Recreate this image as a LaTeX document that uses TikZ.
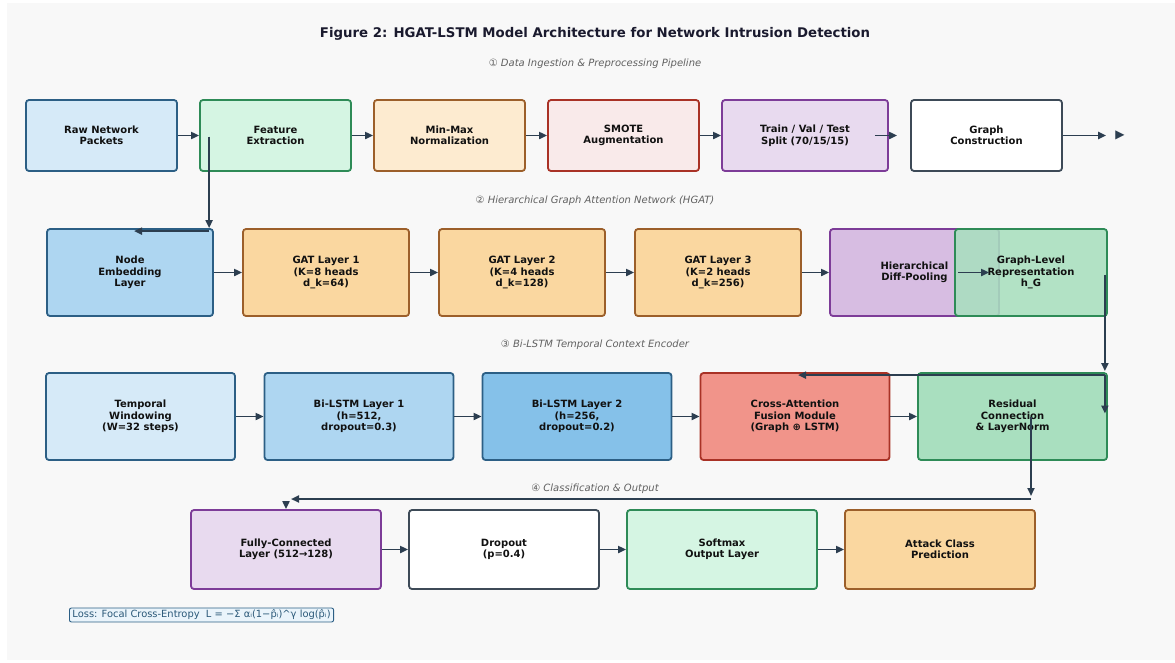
\documentclass[tikz,border=0pt]{standalone}
\usepackage{fontspec}
\setmainfont{DejaVu Sans}
\usepackage{tikz}
\usetikzlibrary{arrows.meta, calc}

\definecolor{ink}{HTML}{111111}
\definecolor{titleink}{HTML}{1A1A2E}
\definecolor{slate}{HTML}{2C3E50}
\definecolor{bgpanel}{HTML}{F8F8F8}
% borders
\definecolor{bdblue}{HTML}{2C5F85}
\definecolor{bdgreen}{HTML}{2E8B57}
\definecolor{bdorange}{HTML}{9C5F2A}
\definecolor{bdred}{HTML}{A93226}
\definecolor{bdpurple}{HTML}{7D3C98}
\definecolor{bdslate}{HTML}{3D4A57}
% fills
\definecolor{blueA}{HTML}{D6EAF8}
\definecolor{blueB}{HTML}{AED6F1}
\definecolor{blueC}{HTML}{85C1E9}
\definecolor{greenA}{HTML}{D5F5E3}
\definecolor{greenB}{HTML}{A9DFBF}
\definecolor{orangeA}{HTML}{FDEBD0}
\definecolor{orangeB}{HTML}{FAD7A0}
\definecolor{redA}{HTML}{F9EAEA}
\definecolor{redB}{HTML}{F1948A}
\definecolor{purpleA}{HTML}{E8DAEF}
\definecolor{purpleB}{HTML}{D7BDE2}
\definecolor{lossfill}{HTML}{EAF4FB}
\definecolor{lossink}{HTML}{2A5878}

\begin{document}
\begin{tikzpicture}[x=1pt, y=-1pt,
    blk/.style={draw, rounded corners=3pt, line width=1.8pt, align=center, inner sep=0pt,
        text=ink, font=\fontsize{10}{11.5}\selectfont\bfseries},
    rowA/.style={blk, minimum width=151, minimum height=71},
    rowB/.style={blk, minimum width=166, minimum height=87},
    rowC/.style={blk, minimum width=189, minimum height=87},
    rowD/.style={blk, minimum width=190, minimum height=79},
    arr/.style={-{Triangle[length=8pt, width=7pt]}, line width=1.9pt, draw=slate},
    sect/.style={text=black!62, font=\fontsize{10}{12}\selectfont\itshape}]

\useasboundingbox (0,0) rectangle (1175,662);
\fill[white] (0,0) rectangle (1175,662);
\fill[bgpanel] (7,3) rectangle (1175,660);

% Title and section headings
\node[text=titleink, font=\fontsize{13.3}{16}\selectfont\bfseries] (title) at (595,34)
    {Figure 2: HGAT-LSTM Model Architecture for Network Intrusion Detection};
\node[sect] (sec1) at (595,64) {{\upshape ①} Data Ingestion \& Preprocessing Pipeline};
\node[sect] (sec2) at (595,201) {{\upshape ②} Hierarchical Graph Attention Network (HGAT)};
\node[sect] (sec3) at (595,345) {{\upshape ③} Bi-LSTM Temporal Context Encoder};
\node[sect] (sec4) at (595,489) {{\upshape ④} Classification \& Output};

% Stage 1: preprocessing
\node[rowA, fill=blueA, draw=bdblue] (raw) at (101.5,135.5) {Raw Network\\Packets};
\node[rowA, fill=greenA, draw=bdgreen] (feat) at (275.5,135.5) {Feature\\Extraction};
\node[rowA, fill=orangeA, draw=bdorange] (minmax) at (449.5,135.5) {Min-Max\\Normalization};
\node[rowA, fill=redA, draw=bdred] (smote) at (623.5,135.5) {SMOTE\\Augmentation};
\node[rowA, fill=purpleA, draw=bdpurple, minimum width=166] (split) at (805,135.5) {Train / Val / Test\\Split (70/15/15)};
\node[rowA, fill=white, draw=bdslate] (graph) at (986.5,135.5) {Graph\\Construction};
\node[text=slate, inner sep=0pt, font=\fontsize{12}{12}\selectfont] (tail) at (1120,135.5) {▶};

\foreach \a/\b in {raw/feat, feat/minmax, minmax/smote, smote/split}
    \draw[arr] (\a) -- (\b);
\draw[arr] ($(split.east)+(-14,0)$) -- ($(graph.west)+(-13,0)$);
\draw[arr] (graph) -- ($(tail.west)+(-9,0)$);

% Stage 2: HGAT
\node[rowB, fill=blueB, draw=bdblue] (embed) at (130,272.5) {Node\\Embedding\\Layer};
\node[rowB, fill=orangeB, draw=bdorange] (gat1) at (326,272.5) {GAT Layer 1\\(K=8 heads\\d\_k=64)};
\node[rowB, fill=orangeB, draw=bdorange] (gat2) at (522,272.5) {GAT Layer 2\\(K=4 heads\\d\_k=128)};
\node[rowB, fill=orangeB, draw=bdorange] (gat3) at (718,272.5) {GAT Layer 3\\(K=2 heads\\d\_k=256)};
\node[rowB, fill=purpleB, draw=bdpurple, minimum width=169] (pool) at (914.5,272.5) {Hierarchical\\Diff-Pooling};
\node[rowB, fill=greenB, fill opacity=0.88, text opacity=1, draw=bdgreen, minimum width=152] (green) at (1031,272.5)
    {Graph-Level\\Representation\\h\_G};

\coordinate (fdrop) at ($(feat.west |- embed.north)+(10,0)$);
\draw[arr] ($(feat.west)+(10,1)$) -- (fdrop);
\draw[arr] ($(fdrop)+(0,3)$) -- ($(embed.north)+(4,3)$);

\foreach \a/\b in {embed/gat1, gat1/gat2, gat2/gat3, gat3/pool}
    \draw[arr] (\a) -- (\b);
\draw[arr] ($(green.west)+(4,0)$) -- ($(green.west)+(35,0)$);

% Stage 3: Bi-LSTM encoder
\node[rowC, fill=blueA, draw=bdblue] (window) at (140.5,416.5) {Temporal\\Windowing\\(W=32 steps)};
\node[rowC, fill=blueB, draw=bdblue] (lstm1) at (359,416.5) {Bi-LSTM Layer 1\\(h=512,\\dropout=0.3)};
\node[rowC, fill=blueC, draw=bdblue] (lstm2) at (577,416.5) {Bi-LSTM Layer 2\\(h=256,\\dropout=0.2)};
\node[rowC, fill=redB, draw=bdred] (cross) at (795,416.5) {Cross-Attention\\Fusion Module\\(Graph ⊕ LSTM)};
\node[rowC, fill=greenB, draw=bdgreen] (resid) at (1012.5,416.5) {Residual\\Connection\\\& LayerNorm};

\foreach \a/\b in {window/lstm1, lstm1/lstm2, lstm2/cross, cross/resid}
    \draw[arr] (\a) -- (\b);

% graph embedding fed into the fusion and the residual path
\coordinate (gsplit) at ($(resid.north east)+(-3,3)$);
\draw[arr] ($(green.east)+(-3,2)$) -- ($(resid.north east)+(-3,-1)$);
\draw[arr] (gsplit) -- ($(cross.north)+(3,3)$);
\draw[arr] (gsplit) -- ($(gsplit |- resid.center)+(0,-3)$);

% Stage 4: classifier head
\node[rowD, fill=purpleA, draw=bdpurple] (fc) at (286,549.5) {Fully-Connected\\Layer (512→128)};
\node[rowD, fill=white, draw=bdslate] (drop) at (504,549.5) {Dropout\\(p=0.4)};
\node[rowD, fill=greenA, draw=bdgreen] (soft) at (722,549.5) {Softmax\\Output Layer};
\node[rowD, fill=orangeB, draw=bdorange] (attack) at (940,549.5) {Attack Class\\Prediction};

\foreach \a/\b in {fc/drop, drop/soft, soft/attack}
    \draw[arr] (\a) -- (\b);

\coordinate (rsplit) at (1031,499);
\draw[arr] (rsplit |- resid.center) -- ($(rsplit)+(0,-3)$);
\draw[arr] (rsplit) -- ($(rsplit -| fc.north)+(5,0)$);
\draw[arr] ($(rsplit -| fc.north)+(0,2)$) -- (fc.north);

% loss annotation
\node[draw=bdblue, fill=lossfill, rounded corners=2pt, line width=0.9pt, anchor=west,
    inner xsep=3pt, inner ysep=2pt, text=lossink, font=\fontsize{9.9}{11}\selectfont] (loss) at (69,615)
    {Loss: Focal Cross-Entropy\ \ L = −Σ αᵢ(1−p̂ᵢ)\textasciicircum γ log(p̂ᵢ)};

\end{tikzpicture}
\end{document}
